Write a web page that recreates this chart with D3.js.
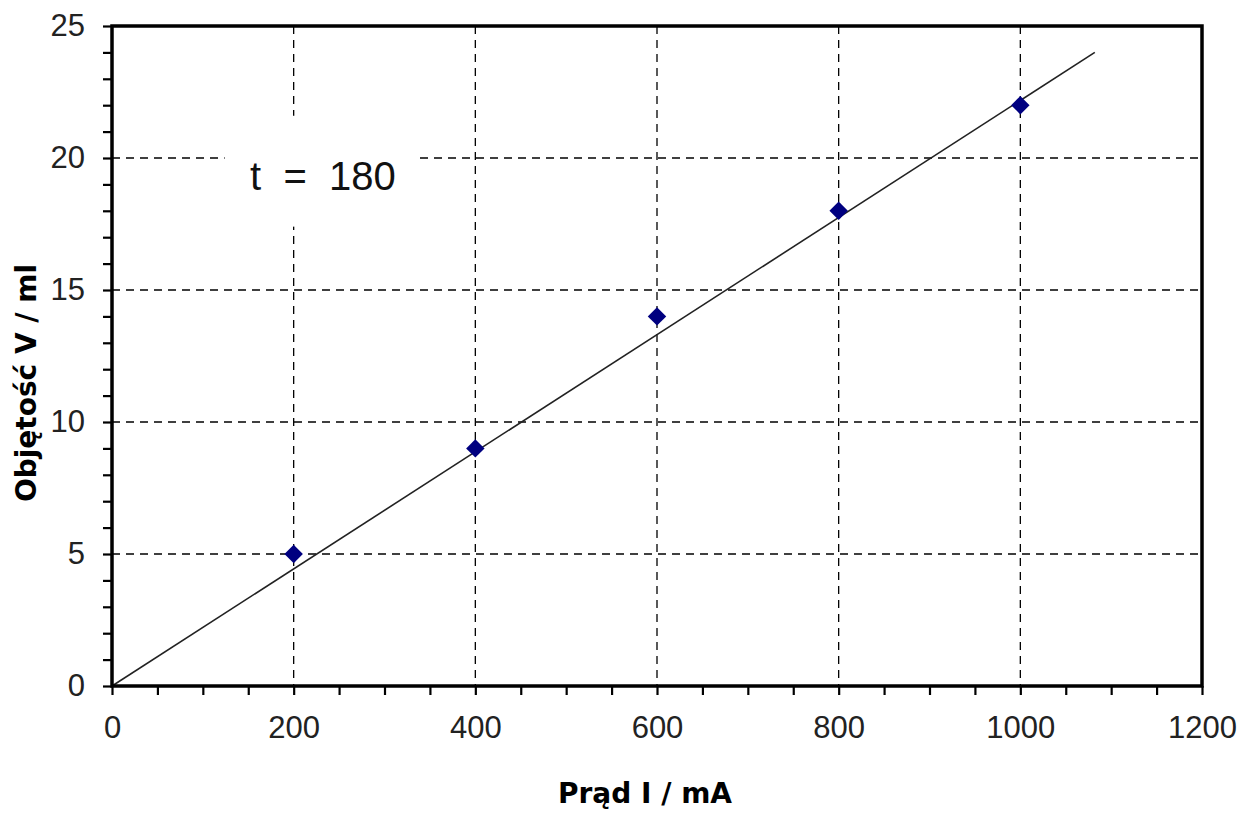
<!DOCTYPE html>
<html>
<head>
<meta charset="utf-8">
<script src="https://cdn.jsdelivr.net/npm/d3@7"></script>
<style>
  body { margin: 0; background: #fff; }
  svg { display: block; }
</style>
</head>
<body>
<svg id="chart" width="1248" height="814"></svg>
<script>
// measured values
const currentMA = [200, 400, 600, 800, 1000]
const volumeML = [5, 9, 14, 18, 22]
// trend line end points
const trendX = [0, 1082]
const trendY = [0, 24]
const xTicks = d3.range(0, 1201, 50)
const yTicks = d3.range(0, 26, 1)
const xGrid = [200, 400, 600, 800, 1000]
const yGrid = [5, 10, 15, 20]

const svg = d3.select('#chart')
const plotLeft = 112, plotRight = 1202, plotTop = 26, plotBottom = 686
const tickFont = '"Liberation Sans", Arial, sans-serif'
const titleFont = '"DejaVu Sans", Verdana, Tahoma, sans-serif'

const x = d3.scaleLinear().domain([0, 1200]).range([plotLeft, plotRight])
const y = d3.scaleLinear().domain([0, 25]).range([plotBottom, plotTop])

// grid
svg.append('g')
	.selectAll('line')
	.data(xGrid)
	.enter()
	.append('line')
	.attr('x1', d => x(d)).attr('x2', d => x(d))
	.attr('y1', plotTop).attr('y2', plotBottom)
	.attr('stroke', '#000').attr('stroke-width', 1.3)
	.attr('stroke-dasharray', '8,6')
svg.append('g')
	.selectAll('line')
	.data(yGrid)
	.enter()
	.append('line')
	.attr('x1', plotLeft).attr('x2', plotRight)
	.attr('y1', d => y(d)).attr('y2', d => y(d))
	.attr('stroke', '#000').attr('stroke-width', 1.3)
	.attr('stroke-dasharray', '8,6')

// white box behind the annotation hides the grid
svg.append('rect')
	.attr('x', x(124)).attr('y', y(21.6))
	.attr('width', x(337) - x(124)).attr('height', y(17.4) - y(21.6))
	.attr('fill', '#fff')

svg.append('text')
	.attr('x', x(152))
	.attr('y', 190)
	.style('white-space', 'pre')
	.attr('font-family', tickFont)
	.attr('font-size', 40)
	.attr('fill', '#111')
	.text('t  =  180')

// trend line
svg.append('line')
	.attr('x1', x(trendX[0])).attr('y1', y(trendY[0]))
	.attr('x2', x(trendX[1])).attr('y2', y(trendY[1]))
	.attr('stroke', '#222').attr('stroke-width', 1.6)

// markers
svg.selectAll('path.pt')
	.data(currentMA)
	.enter()
	.append('path')
	.attr('class', 'pt')
	.attr('d', d3.symbol(d3.symbolSquare, 170))
	.attr('transform', (d, i) => `translate(${x(d)},${y(volumeML[i])}) rotate(45)`)
	.attr('fill', '#000080')

// frame
svg.append('rect')
	.attr('x', plotLeft).attr('y', plotTop)
	.attr('width', plotRight - plotLeft).attr('height', plotBottom - plotTop)
	.attr('fill', 'none').attr('stroke', '#000').attr('stroke-width', 3.5)

// axes
const xAxis = d3.axisBottom(x)
	.tickValues(xTicks)
	.tickSize(9)
	.tickPadding(21)
	.tickFormat(d => d % 200 === 0 ? d : '')
svg.append('g')
	.attr('transform', `translate(0,${plotBottom})`)
	.call(xAxis)

const yAxis = d3.axisLeft(y)
	.tickValues(yTicks)
	.tickSize(9)
	.tickPadding(18)
	.tickFormat(d => d % 5 === 0 ? d : '')
svg.append('g')
	.attr('transform', `translate(${plotLeft},0)`)
	.call(yAxis)

svg.selectAll('path.domain').remove()
svg.selectAll('.tick line').attr('stroke', '#000').attr('stroke-width', 2.2)
svg.selectAll('.tick text')
	.attr('font-family', tickFont)
	.attr('font-size', 31)
	.attr('fill', '#222')

// axis titles
svg.append('text')
	.attr('x', (plotLeft + plotRight) / 2 - 12)
	.attr('y', 803)
	.attr('text-anchor', 'middle')
	.attr('font-family', titleFont)
	.attr('font-weight', 'bold')
	.attr('font-size', 28)
	.text('Prąd I / mA')

svg.append('text')
	.attr('transform', `translate(36,383) rotate(-90)`)
	.attr('text-anchor', 'middle')
	.attr('font-family', titleFont)
	.attr('font-weight', 'bold')
	.attr('font-size', 28)
	.text('Objętość V / ml')
</script>
</body>
</html>
